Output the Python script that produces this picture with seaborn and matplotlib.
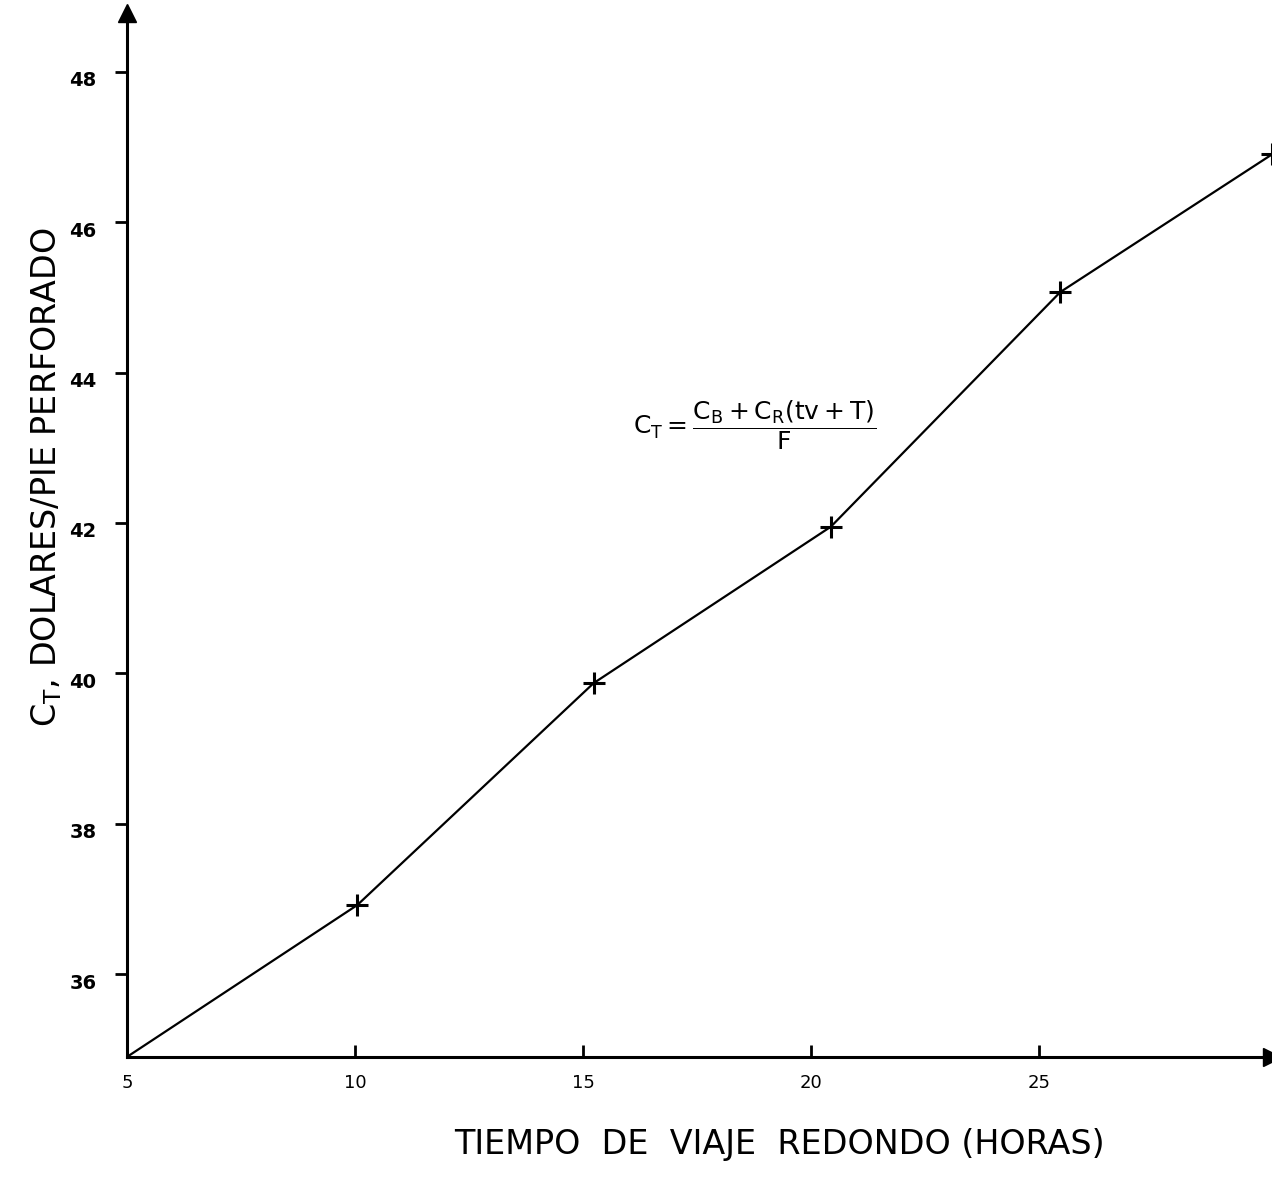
import matplotlib
matplotlib.use("Agg")
import matplotlib.pyplot as plt
import matplotlib.transforms as mtransforms
import seaborn as sns

# values
tiempo = [5.0, 10.05, 15.23, 20.43, 25.46, 30.1]
costo = [34.9, 36.92, 39.87, 41.95, 45.07, 46.9]
x_ticks = [5, 10, 15, 20, 25]
y_ticks = [36, 38, 40, 42, 44, 46, 48]

sns.set_style("white")
plt.rcParams["font.family"] = ["DejaVu Sans"]
plt.rcParams["text.color"] = "black"

fig = plt.figure(figsize=(12.72, 11.82), dpi=100)
ax = fig.add_axes([0.0998, 0.1058, 0.9002, 0.8832])

sns.lineplot(x=tiempo, y=costo, ax=ax, color="black", linewidth=1.6,
             marker=None, estimator=None, sort=False)
ax.plot(tiempo[1:], costo[1:], linestyle="none", marker="+", markersize=16,
        markeredgewidth=2.2, color="black")

ax.set_xlim(5, 30.1)
ax.set_ylim(34.9, 48.78)

for side in ["top", "right"]:
    ax.spines[side].set_visible(False)
for side in ["left", "bottom"]:
    ax.spines[side].set_linewidth(2.2)
    ax.spines[side].set_color("black")

# arrow heads at the ends of the axes
ax.plot(1, 0, ">k", markersize=13, transform=ax.transAxes, clip_on=False)
ax.plot(0, 1, "^k", markersize=13, transform=ax.transAxes, clip_on=False)

ax.set_xticks(x_ticks)
ax.set_yticks(y_ticks)
ax.tick_params(axis="x", bottom=True, direction="in", length=9, width=2,
               pad=12, labelsize=13, colors="black")
ax.tick_params(axis="y", left=True, direction="out", length=9, width=2,
               pad=13, labelsize=14, colors="black")
for lab in ax.get_yticklabels():
    lab.set_fontweight("bold")
    lab.set_transform(lab.get_transform() +
                      mtransforms.ScaledTranslation(0, -0.07, fig.dpi_scale_trans))

ax.set_xlabel("TIEMPO  DE  VIAJE  REDONDO (HORAS)", fontsize=24,
              labelpad=26, x=0.57, color="black")
ax.set_ylabel(r"C$_\mathrm{T}$, DOLARES/PIE PERFORADO", fontsize=24, color="black")
ax.yaxis.set_label_coords(-0.055, 0.555)

ax.text(0.548, 0.605,
        r"$\mathrm{C_T} = \dfrac{\mathrm{C_B + C_R(tv + T)}}{\mathrm{F}}$",
        transform=ax.transAxes, fontsize=18, ha="center", va="center",
        color="black")

fig.savefig("out.png", dpi=100)
